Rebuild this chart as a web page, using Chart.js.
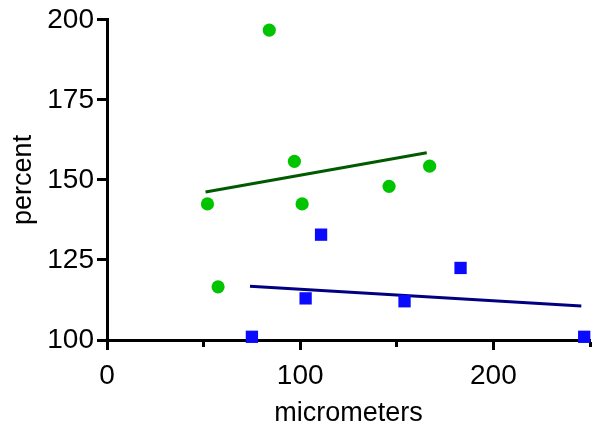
<!DOCTYPE html>
<html>
<head>
<meta charset="utf-8">
<script src="https://cdn.jsdelivr.net/npm/chart.js@4"></script>
<style>
html,body{margin:0;padding:0;background:#fff;}
#wrap{width:601px;height:430px;}
</style>
</head>
<body>
<div id="wrap"><canvas id="c" width="601" height="430"></canvas></div>
<script>
// Series A (green circles)
const greenX = [52, 57.5, 84, 97, 101, 146, 167];
const greenY = [142.5, 116.6, 196.8, 155.8, 142.5, 148.0, 154.3];
// Green fit line endpoints
const greenFitX = [51, 165.5];
const greenFitY = [146.2, 158.5];
// Series B (blue squares)
const blueX = [75, 102.8, 110.8, 154, 183, 247];
const blueY = [101, 113, 132.9, 112.1, 122.5, 101];
// Blue fit line endpoints
const blueFitX = [74, 245.5];
const blueFitY = [116.8, 110.6];
// Axes
const xMin = 0, xMax = 250, xStep = 50, xLabelStep = 100;
const yMin = 100, yMax = 200, yStep = 25;
const xTitle = 'micrometers';
const yTitle = 'percent';

function pts(xs, ys){ return xs.map((x,i)=>({x:x, y:ys[i]})); }

const FONT = "'Liberation Sans', Arial, Helvetica, sans-serif";

new Chart(document.getElementById('c'), {
  type: 'scatter',
  data: {
    datasets: [
      {
        data: pts(greenFitX, greenFitY),
        showLine: true, borderColor: '#005a00', borderWidth: 3,
        pointRadius: 0, clip: false, order: 2
      },
      {
        data: pts(blueFitX, blueFitY),
        showLine: true, borderColor: '#000080', borderWidth: 3,
        pointRadius: 0, clip: false, order: 2
      },
      {
        data: pts(greenX, greenY),
        pointStyle: 'circle', pointRadius: 6.6,
        backgroundColor: '#00c400', borderWidth: 0, clip: false, order: 1
      },
      {
        data: pts(blueX, blueY),
        pointStyle: 'rect', pointRadius: 8.7,
        backgroundColor: '#0a0aff', borderWidth: 0, clip: false, order: 1
      }
    ]
  },
  options: {
    responsive: false,
    animation: false,
    devicePixelRatio: 1,
    layout: { padding: { left: 0, right: 11, top: 18, bottom: 0 } },
    plugins: { legend: { display: false }, tooltip: { enabled: false } },
    scales: {
      x: {
        type: 'linear', min: xMin, max: xMax,
        afterFit: s => { s.height = 90; },
        ticks: {
          stepSize: xStep, color: '#000', padding: 9,
          font: { family: FONT, size: 28 },
          maxRotation: 0, autoSkip: false,
          callback: v => (v % xLabelStep === 0 ? String(v) : '')
        },
        grid: {
          drawOnChartArea: false, drawTicks: true, tickLength: 10,
          tickWidth: 3, tickColor: '#000',
          tickBorderDash: ctx => (ctx.tick && ctx.tick.value % xLabelStep !== 0 ? [5, 100] : [])
        },
        border: { display: true, width: 3, color: '#000' },
        title: {
          display: true, text: xTitle, color: '#000',
          font: { family: FONT, size: 27 }, padding: { top: 4, bottom: 0 }
        }
      },
      y: {
        type: 'linear', min: yMin, max: yMax,
        afterFit: s => { s.width = 107; },
        ticks: {
          stepSize: yStep, color: '#000', padding: 3,
          font: { family: FONT, size: 28 }
        },
        grid: {
          drawOnChartArea: false, drawTicks: true, tickLength: 10,
          tickWidth: 3, tickColor: '#000'
        },
        border: { display: true, width: 3, color: '#000' },
        title: {
          display: true, text: yTitle, color: '#000',
          font: { family: FONT, size: 27 }, padding: { top: 7, bottom: 0 }
        }
      }
    }
  }
});
</script>
</body>
</html>
